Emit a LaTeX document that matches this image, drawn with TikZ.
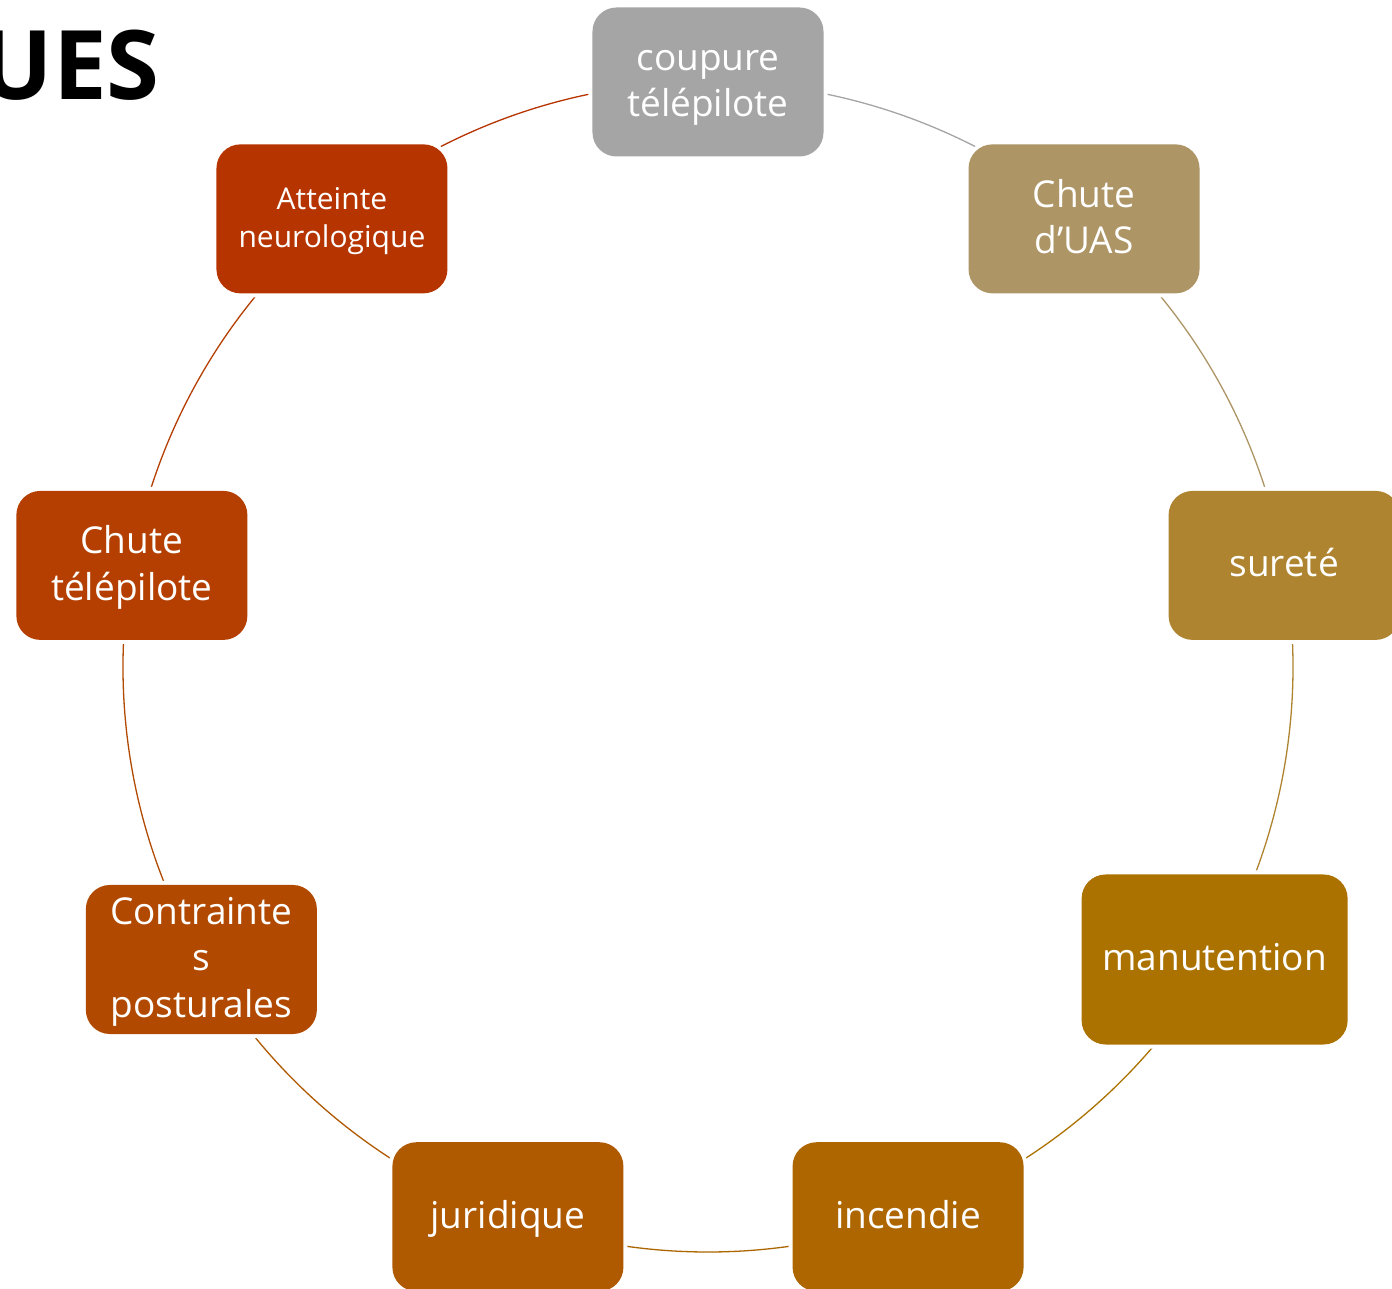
\documentclass[tikz,border=0pt]{standalone}
\usepackage{fontspec}
\setmainfont{Open Sans}
\newfontfamily\titlefont{Open Sans}
\usetikzlibrary{backgrounds}
\definecolor{cA}{HTML}{A5A5A5}
\definecolor{cB}{HTML}{AD9566}
\definecolor{cC}{HTML}{AF8431}
\definecolor{cD}{HTML}{AB7200}
\definecolor{cE}{HTML}{AD6600}
\definecolor{cF}{HTML}{AF5900}
\definecolor{cG}{HTML}{B14A00}
\definecolor{cH}{HTML}{B43F00}
\definecolor{cI}{HTML}{B63400}
\newcommand\bigf{\fontsize{37}{46.5}\selectfont}
\newcommand\smallf{\fontsize{30}{38}\selectfont}
\newcommand\ls{\rule[-0.253\baselineskip]{0pt}{\baselineskip}}
\tikzset{
  box/.style={rounded corners=24pt, fill=#1, text=white, minimum width=231pt,
    minimum height=149pt, inner sep=0pt, align=center, font=\bigf,
    preaction={draw=white, line width=8pt}},
  ring/.style={line width=1.3pt, draw=#1},
}
\begin{document}
\begin{tikzpicture}[x=1pt,y=1pt]
\useasboundingbox (-708pt,-622pt) rectangle (684pt,667pt);
\node[anchor=base east, inner sep=0pt, font=\titlefont\bfseries\fontsize{96}{110}\selectfont] (title) at (-548pt,567pt) {UES};
\node[box=cA] (n1) at (90:585pt) {\ls coupure\\\ls télépilote};
\node[box=cB] (n2) at (50:585pt) {\ls Chute\\\ls d’UAS};
\node[box=cC] (n3) at (10:585pt) {\ls sureté};
\node[box=cD, minimum width=266pt, minimum height=170pt] (n4) at (-30:585pt) {\ls manutention};
\node[box=cE] (n5) at (-70:585pt) {\ls incendie};
\node[box=cF] (n6) at (-110:585pt) {\ls juridique};
\node[box=cG] (n7) at (-150:585pt) {\ls Contrainte\\\ls s\\\ls posturales};
\node[box=cH] (n8) at (170:585pt) {\ls Chute\\\ls télépilote};
\node[box=cI, font=\smallf] (n9) at (130:585pt) {\ls Atteinte\\\ls neurologique};
\begin{scope}[on background layer]
\fill[white] (-708pt,-622pt) rectangle (684pt,667pt);
\draw[ring=cA] (n1.center) arc[start angle=90, end angle=50, radius=585pt];
\draw[ring=cB] (n2.center) arc[start angle=50, end angle=10, radius=585pt];
\draw[ring=cC] (n3.center) arc[start angle=10, end angle=-30, radius=585pt];
\draw[ring=cD] (n4.center) arc[start angle=-30, end angle=-70, radius=585pt];
\draw[ring=cE] (n5.center) arc[start angle=-70, end angle=-110, radius=585pt];
\draw[ring=cF] (n6.center) arc[start angle=-110, end angle=-150, radius=585pt];
\draw[ring=cG] (n7.center) arc[start angle=-150, end angle=-190, radius=585pt];
\draw[ring=cH] (n8.center) arc[start angle=170, end angle=130, radius=585pt];
\draw[ring=cI] (n9.center) arc[start angle=130, end angle=90, radius=585pt];
\end{scope}
\end{tikzpicture}
\end{document}
